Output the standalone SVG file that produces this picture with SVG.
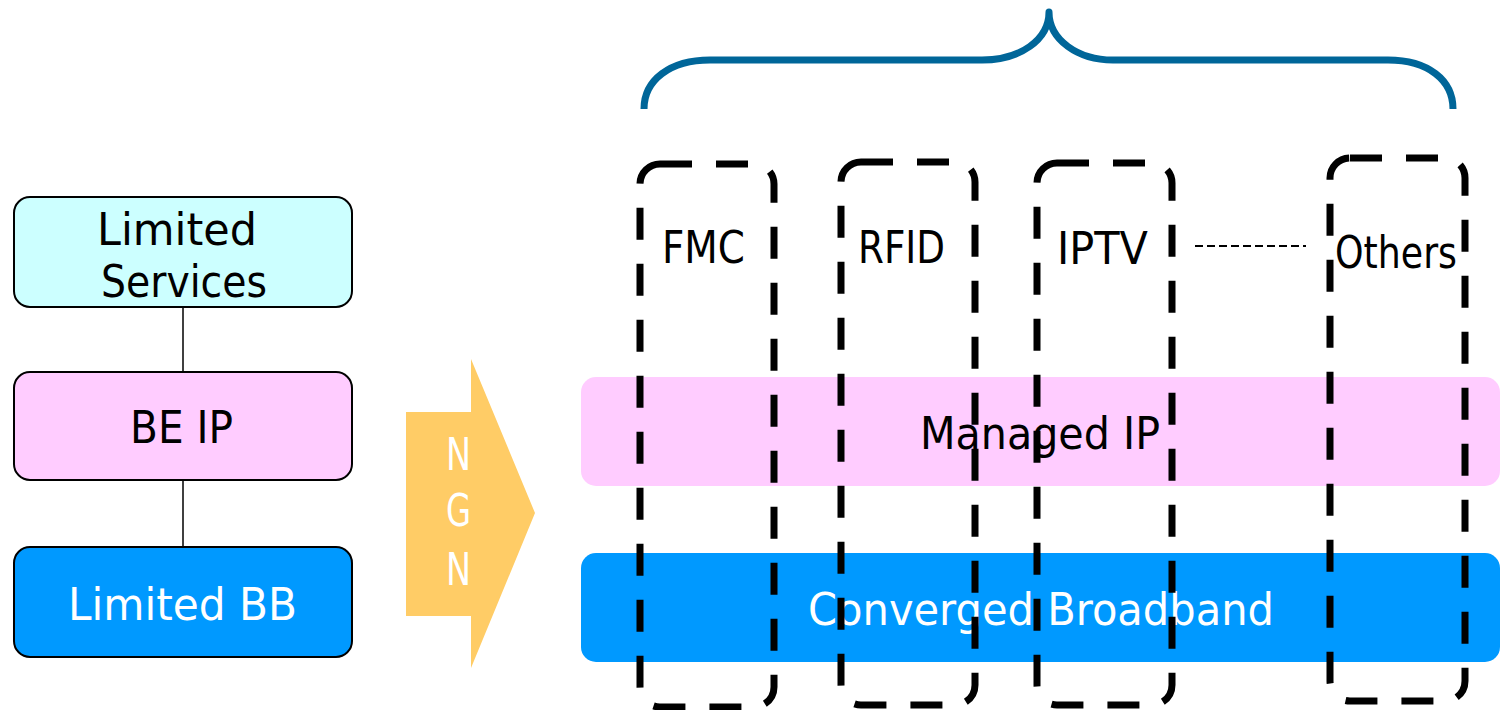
<svg xmlns="http://www.w3.org/2000/svg" width="1501" height="710" viewBox="0 0 1501 710">
<style>
.box{stroke:#000;stroke-width:2}
.t{font-family:"DejaVu Sans","Liberation Sans",sans-serif;font-size:45px}
.w{fill:#fff}
.k{fill:#000}
.dash{fill:none;stroke:#000;stroke-width:7;stroke-dasharray:32 24}
.conn{stroke:#000;stroke-width:1.5;fill:none}
</style>
<rect width="1501" height="710" fill="#fff"/>
<g id="connectors">
<line class="conn" x1="183" y1="307" x2="183" y2="372"/>
<line class="conn" x1="183" y1="480" x2="183" y2="547"/>
<line x1="1195" y1="246" x2="1306" y2="246" stroke="#000" stroke-width="2" stroke-dasharray="8 4"/>
</g>
<g id="limited-services">
<rect class="box" x="14" y="197" width="338" height="110" rx="16" fill="#CCFFFF"/>
<text class="t k" x="97" y="245" textLength="160" lengthAdjust="spacingAndGlyphs">Limited</text>
<text class="t k" x="101" y="297" textLength="166" lengthAdjust="spacingAndGlyphs">Services</text>
</g>
<g id="be-ip">
<rect class="box" x="14" y="372" width="338" height="108" rx="16" fill="#FFCCFF"/>
<text class="t k" x="130" y="443" textLength="103" lengthAdjust="spacingAndGlyphs">BE IP</text>
</g>
<g id="limited-bb">
<rect class="box" x="14" y="547" width="338" height="110" rx="16" fill="#0099FF"/>
<text class="t w" x="68" y="620" textLength="229" lengthAdjust="spacingAndGlyphs">Limited BB</text>
</g>
<g id="ngn-arrow">
<polygon points="406,412 471,412 471,359 535,513 471,668 471,616 406,616" fill="#FFCC66"/>
<text class="t w" x="446" y="470" textLength="25" lengthAdjust="spacingAndGlyphs">N</text>
<text class="t w" x="446" y="526" textLength="25" lengthAdjust="spacingAndGlyphs">G</text>
<text class="t w" x="446" y="585" textLength="25" lengthAdjust="spacingAndGlyphs">N</text>
</g>
<g id="brace">
<path d="M644,109 C644,80 670,60 710,60 L982,60 C1020,60 1049,40 1049,12 C1049,40 1078,60 1113,60 L1388,60 C1428,60 1453,80 1453,109" fill="none" stroke="#006699" stroke-width="7" stroke-linejoin="round"/>
</g>
<g id="managed-ip">
<rect x="581" y="377" width="919" height="109" rx="15" fill="#FFCCFF"/>
<text class="t k" x="920" y="449" textLength="240" lengthAdjust="spacingAndGlyphs">Managed IP</text>
</g>
<g id="converged-broadband">
<rect x="581" y="553" width="919" height="109" rx="15" fill="#0099FF"/>
<text class="t w" x="808" y="625" textLength="466" lengthAdjust="spacingAndGlyphs">Converged Broadband</text>
</g>
<g id="fmc">
<path class="dash" d="M660,164 H754 A20,20 0 0 1 774,184 V687 A20,20 0 0 1 754,707 H660 A20,20 0 0 1 640,687 V184 A20,20 0 0 1 660,164 Z"/>
<text class="t k" x="662" y="263" textLength="83" lengthAdjust="spacingAndGlyphs">FMC</text>
</g>
<g id="rfid">
<path class="dash" d="M861,162 H955 A20,20 0 0 1 975,182 V685 A20,20 0 0 1 955,705 H861 A20,20 0 0 1 841,685 V182 A20,20 0 0 1 861,162 Z"/>
<text class="t k" x="858" y="263" textLength="87" lengthAdjust="spacingAndGlyphs">RFID</text>
</g>
<g id="iptv">
<path class="dash" d="M1057,163 H1152 A20,20 0 0 1 1172,183 V685 A20,20 0 0 1 1152,705 H1057 A20,20 0 0 1 1037,685 V183 A20,20 0 0 1 1057,163 Z"/>
<text class="t k" x="1057" y="264" textLength="91" lengthAdjust="spacingAndGlyphs">IPTV</text>
</g>
<g id="others">
<path class="dash" d="M1350,158 H1445 A20,20 0 0 1 1465,178 V681 A20,20 0 0 1 1445,701 H1350 A20,20 0 0 1 1330,681 V178 A20,20 0 0 1 1350,158 Z"/>
<text class="t k" x="1335" y="268" textLength="122" lengthAdjust="spacingAndGlyphs">Others</text>
</g>
</svg>
